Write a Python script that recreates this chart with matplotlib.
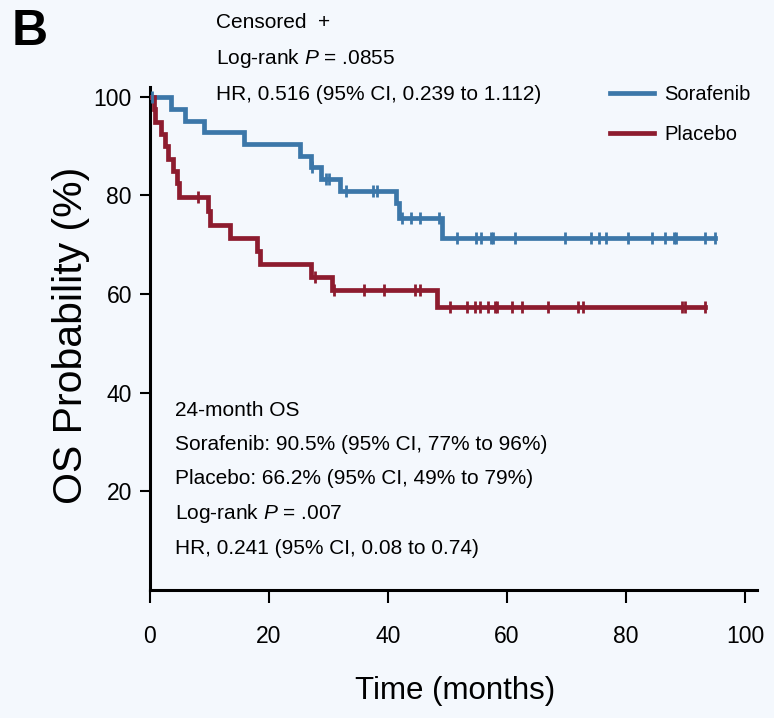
import numpy as np
import matplotlib
matplotlib.use('Agg')
import matplotlib.pyplot as plt

# Kaplan-Meier steps: time (months) and OS probability (%) after each event
sor_times = [0, 3.6, 5.9, 9.1, 15.8, 25.2, 27.1, 28.8, 32.0, 41.3, 41.8, 49.0]
sor_surv = [100, 97.6, 95.2, 92.9, 90.5, 88.1, 85.7, 83.3, 80.9, 78.5, 75.4, 71.3]
sor_censor = [0.3, 27.3, 29.5, 30.1, 32.9, 37.4, 38.1, 42.3, 43.9, 45.4, 48.6,
              51.6, 54.8, 55.6, 57.3, 57.6, 61.3, 69.7, 74.1, 75.5, 76.6, 80.3,
              84.4, 86.5, 88.1, 88.4, 93.2, 95.0]

pla_times = [0, 0.6, 0.9, 1.8, 2.5, 3.1, 3.8, 4.5, 4.9, 9.7, 10.1, 13.4, 17.9,
             18.5, 27.0, 30.6, 48.2]
pla_surv = [100, 97.5, 95.0, 92.5, 90.0, 87.5, 85.0, 82.5, 79.6, 76.9, 74.1,
            71.4, 68.8, 66.2, 63.5, 60.9, 57.3]
pla_censor = [8.1, 27.8, 31.0, 35.9, 39.3, 44.5, 45.3, 50.4, 53.2, 54.6, 55.5,
              56.8, 58.0, 58.3, 60.9, 62.5, 66.8, 72.0, 72.8, 89.4, 89.9, 93.3]

x_ticks = [0, 20, 40, 60, 80, 100]
y_ticks = [20, 40, 60, 80, 100]

blue = '#3c77a9'
red = '#8d1c2f'
bg = '#f4f8fd'

plt.rcParams['font.family'] = ['Liberation Sans', 'DejaVu Sans']
plt.rcParams['mathtext.fontset'] = 'custom'
plt.rcParams['mathtext.rm'] = 'Liberation Sans'
plt.rcParams['mathtext.it'] = 'Liberation Sans:italic'

fig = plt.figure(figsize=(7.74, 7.18), dpi=100, facecolor=bg)
ax = fig.add_axes([150 / 774, 1 - 590 / 718, 607 / 774, 503 / 718], facecolor=bg)


def km_curve(times, surv, censor, color, label):
    end = max(censor)
    t = np.array(times + [end])
    s = np.array(surv + [surv[-1]])
    ax.step(t, s, where='post', color=color, lw=3.4, label=label,
            solid_joinstyle='miter', zorder=3)
    # censored patients sit on the curve at their time
    idx = np.searchsorted(t, censor, side='right') - 1
    ax.plot(censor, s[idx], linestyle='none', marker='|', ms=9, mew=2,
            color=color, zorder=4)


km_curve(sor_times, sor_surv, sor_censor, blue, 'Sorafenib')
km_curve(pla_times, pla_surv, pla_censor, red, 'Placebo')

ax.set_xlim(0, 102)
ax.set_ylim(0, 102)
ax.set_xticks(x_ticks)
ax.set_yticks(y_ticks)
ax.spines['top'].set_visible(False)
ax.spines['right'].set_visible(False)
ax.spines['left'].set_linewidth(2.2)
ax.spines['bottom'].set_linewidth(2.2)
ax.tick_params(axis='y', length=7, width=1.5, pad=6, labelsize=16.5)
ax.tick_params(axis='x', length=9, width=1.5, pad=16, labelsize=16.5)

ax.set_xlabel('Time (months)', fontsize=22.5, va='center')
ax.xaxis.set_label_coords(0.503, -0.2)
ax.set_ylabel('OS Probability (%)', fontsize=29.5, va='center')
ax.yaxis.set_label_coords(-0.13, 0.507)

leg = ax.legend(loc='upper left', bbox_to_anchor=(610 / 774, 1 - 85 / 718),
                bbox_transform=fig.transFigure, frameon=False, fontsize=14.5,
                handlelength=2.2, handletextpad=0.5, labelspacing=1.05,
                borderpad=0, borderaxespad=0)

fig.text(12 / 774, 1 - 32 / 718, 'B', fontsize=36, fontweight='bold',
         va='center', ha='left')

top_lines = ['Censored  +', 'Log-rank $P$ = .0855',
             'HR, 0.516 (95% CI, 0.239 to 1.112)']
for i, line in enumerate(top_lines):
    fig.text(216 / 774, 1 - (23 + 36 * i) / 718, line, fontsize=15,
             va='center', ha='left')

bottom_lines = ['24-month OS', 'Sorafenib: 90.5% (95% CI, 77% to 96%)',
                'Placebo: 66.2% (95% CI, 49% to 79%)', 'Log-rank $P$ = .007',
                'HR, 0.241 (95% CI, 0.08 to 0.74)']
for i, line in enumerate(bottom_lines):
    fig.text(175 / 774, 1 - (410 + 34.5 * i) / 718, line, fontsize=15,
             va='center', ha='left')

fig.savefig('out.png', dpi=100, facecolor=bg)
